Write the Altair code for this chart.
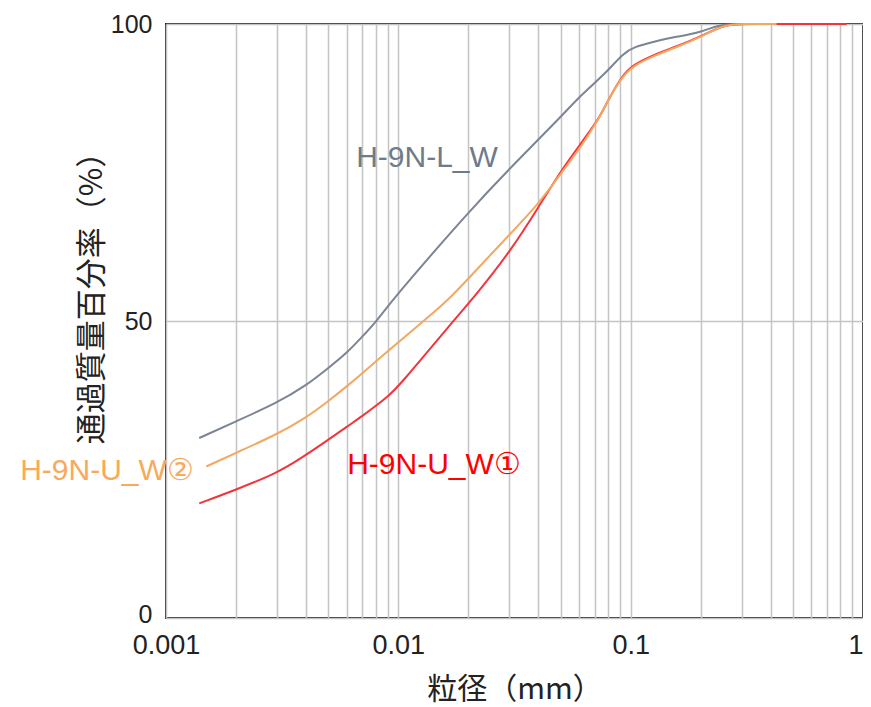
import altair as alt
import pandas as pd

# Particle size (mm) and passing percentage (%)
grey_d = [0.00139, 0.002, 0.003, 0.004, 0.005, 0.006, 0.007, 0.008, 0.00943, 0.0204,
          0.0307, 0.0488, 0.0612, 0.0772, 0.0929, 0.103, 0.127, 0.160, 0.200, 0.240,
          0.300, 0.425]
grey_p = [30.3, 33.1, 36.2, 39.1, 42.1, 44.6, 47.4, 49.8, 53.6, 68.7,
          76.0, 83.9, 88.1, 91.5, 95.1, 96.1, 97.1, 97.9, 98.6, 99.9,
          100, 100]

orange_d = [0.00149, 0.002, 0.003, 0.004, 0.005, 0.006, 0.007, 0.008, 0.009, 0.01,
            0.01267, 0.01649, 0.0204, 0.0307, 0.0403, 0.0505, 0.0614, 0.0725, 0.0772, 0.091,
            0.103, 0.127, 0.160, 0.200, 0.253, 0.300, 0.425]
orange_p = [25.5, 27.8, 30.9, 33.7, 36.5, 39.0, 41.2, 43.2, 44.9, 46.4,
            49.8, 53.6, 57.5, 64.9, 69.8, 75.0, 79.4, 83.9, 86.0, 91.0,
            93.0, 94.7, 96.2, 97.8, 99.9, 100, 100]

red_d = [0.00139, 0.002, 0.003, 0.00375, 0.005, 0.006, 0.007, 0.008, 0.009, 0.01,
         0.01704, 0.0215, 0.0307, 0.0403, 0.0505, 0.0614, 0.0725, 0.0772, 0.091, 0.103,
         0.127, 0.160, 0.200, 0.253, 0.300, 0.850]
red_p = [19.3, 21.6, 24.4, 26.7, 30.0, 32.2, 34.0, 35.7, 37.3, 38.9,
         49.8, 54.3, 62.0, 69.3, 75.5, 80.0, 83.9, 86.0, 91.2, 93.2,
         94.9, 96.3, 97.9, 99.9, 100, 100]

series_names = ["H-9N-L_W", "H-9N-U_W②", "H-9N-U_W①"]
x_grid_values = [0.001, 0.002, 0.003, 0.004, 0.005, 0.006, 0.007, 0.008, 0.009,
                 0.01, 0.02, 0.03, 0.04, 0.05, 0.06, 0.07, 0.08, 0.09,
                 0.1, 0.2, 0.3, 0.4, 0.5, 0.6, 0.7, 0.8, 0.9, 1]
y_tick_values = [0, 50, 100]

x_scale = alt.Scale(type="log", domain=[0.001, 1])
y_scale = alt.Scale(domain=[0, 100])

x_axis = alt.Axis(
    title="粒径（mm）", values=x_grid_values,
    labelExpr="(datum.value == 0.001 || datum.value == 0.01 || datum.value == 0.1 || datum.value == 1) ? format(datum.value, '~g') : ''",
    labelAlign={"condition": {"test": "datum.value == 1", "value": "right"}, "value": "center"},
    labelFont="Liberation Sans", labelFontSize=27, labelColor="#222222", labelPadding=14,
    labelFlush=False, labelOverlap=False, labelBound=False,
    titleFont="Noto Sans CJK JP", titleFontSize=30, titleFontWeight="normal", titleColor="#222222",
    titleY=71, titleBaseline="middle",
    ticks=False, domain=False, grid=True, gridColor="#c4c4c4", gridWidth=1.5,
)
y_axis = alt.Axis(
    title="通過質量百分率（%）", values=y_tick_values,
    labelOffset={"condition": {"test": "datum.value == 0", "value": -4}, "value": 0},
    labelFont="Liberation Sans", labelFontSize=25, labelColor="#222222", labelPadding=14,
    titleFont="Noto Sans CJK JP", titleFontSize=31, titleFontWeight="normal", titleColor="#222222",
    titleX=-74, titleY=266, titleBaseline="middle", titleAngle=270,
    ticks=False, domain=False, grid=True, gridColor="#c4c4c4", gridWidth=1.5,
)


def line_layer(ds, ps, color):
    df = pd.DataFrame({"d": ds, "p": ps})
    return alt.Chart(df).mark_line(color=color, strokeWidth=2, interpolate="basis").encode(
        x=alt.X("d:Q", scale=x_scale, axis=x_axis),
        y=alt.Y("p:Q", scale=y_scale, axis=y_axis),
    )


def label_layer(text, color, px, py, align="center"):
    df = pd.DataFrame({"t": [text]})
    return alt.Chart(df).mark_text(
        font="Liberation Sans", fontSize=30, color=color, align=align, baseline="middle"
    ).encode(text="t:N", x=alt.value(px), y=alt.value(py))


chart = alt.layer(
    line_layer(grey_d, grey_p, "#7b8593"),
    line_layer(red_d, red_p, "#f3343c"),
    line_layer(orange_d, orange_p, "#f3a862"),
    label_layer(series_names[0], "#6d7b8b", 261, 134),
    label_layer(series_names[1], "#f8a95a", -59, 447),
    label_layer(series_names[2], "#ff0000", 268, 441),
).properties(
    width=697, height=594,
    padding={"left": 158, "top": 16, "right": 0, "bottom": 88},
    autosize=alt.AutoSizeParams(type="none"),
).configure_view(stroke="#2a2a2a", strokeWidth=2)

chart.save("out.html", embed_options={"renderer": "svg", "actions": False})
